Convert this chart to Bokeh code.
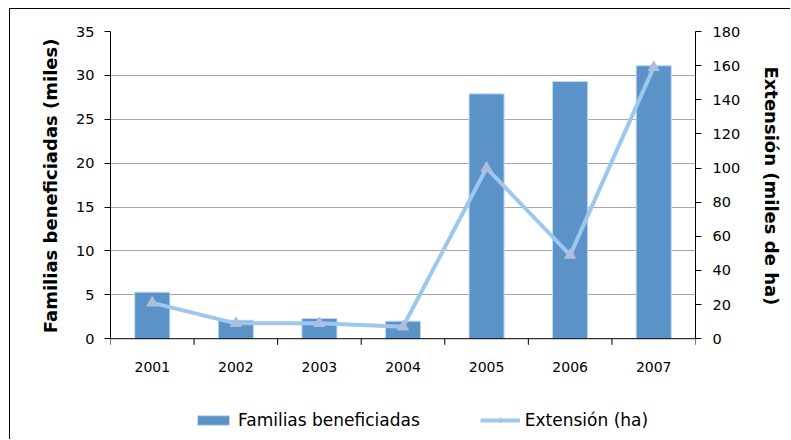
from bokeh.plotting import figure
from bokeh.models import (ColumnDataSource, Range1d, LinearAxis, FixedTicker,
                          Legend, LegendItem, Span)
from bokeh.core.properties import value
from bokeh.embed import file_html
from bokeh.resources import INLINE

years = ["2001", "2002", "2003", "2004", "2005", "2006", "2007"]
familias = [5.3, 2.1, 2.3, 2.0, 27.9, 29.3, 31.1]       # miles
extension = [21, 9, 9, 7, 100, 49, 159]                  # miles de ha
left_ticks = [0, 5, 10, 15, 20, 25, 30, 35]
right_ticks = [0, 20, 40, 60, 80, 100, 120, 140, 160, 180]
left_title = "Familias beneficiadas (miles)"
right_title = "Extensión (miles de ha)"

FONT = "DejaVu Sans"
n = len(years)
xpos = [i + 0.5 for i in range(n)]
bounds_x = list(range(n + 1))
src = ColumnDataSource(dict(x=xpos, fam=familias, ext=extension, year=years,
                            zero=[0] * n))

YMAX = left_ticks[-1]
RMAX = right_ticks[-1]
# frame extends below zero to host the legend area
LOW = -11.6
p = figure(width=781, height=431, output_backend="svg", toolbar_location=None,
           x_range=Range1d(0, n), y_range=Range1d(LOW, YMAX),
           min_border_left=100, min_border_right=96, min_border_top=22,
           min_border_bottom=0, x_axis_location=None, y_axis_location=None)
p.outline_line_color = None
p.border_fill_color = "white"
p.background_fill_color = "white"
p.extra_y_ranges = {"ext": Range1d(LOW * RMAX / YMAX, RMAX)}
p.styles = {"margin-left": "9px", "margin-top": "8px",
            "border-left": "1px solid black", "border-top": "1px solid black"}

# grid
p.xgrid.visible = False
p.ygrid.ticker = FixedTicker(ticks=left_ticks[1:])
p.ygrid.grid_line_color = "#a6a6a6"
p.ygrid.grid_line_width = 1

# bars
bars = p.vbar(x="x", top="fam", width=0.42, source=src,
              fill_color="#5b93c9", line_color="#c4daf0", line_width=1)

# category axis (at zero)
p.add_layout(Span(location=0, dimension="width", line_color="black", line_width=1))
p.segment(x0=bounds_x, y0=[0] * (n + 1), x1=bounds_x, y1=[-0.7] * (n + 1),
          line_color="black", line_width=1)
p.text(x="x", y="zero", text="year", source=src, text_align="center",
       text_baseline="middle", y_offset=28, text_font=value(FONT),
       text_font_size="14px", text_color="black")

# line
ln = p.line(x="x", y="ext", source=src, y_range_name="ext",
            line_color="#9dc8ee", line_width=4)
mk = p.scatter(x="x", y="ext", source=src, y_range_name="ext", marker="triangle",
               size=11, fill_color="#b0bedd", line_color="#b0bedd")

def style_y(ax, standoff, label_standoff):
    ax.major_tick_out = 6
    ax.major_tick_in = 0
    ax.minor_tick_line_color = None
    ax.axis_line_color = "black"
    ax.major_label_text_font = FONT
    ax.major_label_text_font_size = "14.5px"
    ax.major_label_text_color = "black"
    ax.major_label_standoff = standoff
    ax.axis_label_text_font = FONT
    ax.axis_label_text_font_style = "bold"
    ax.axis_label_text_font_size = "18px"
    ax.axis_label_text_color = "black"
    ax.axis_label_standoff = label_standoff

# non-breaking padding keeps the titles centred on the 0..max part of the axes
PAD = "\u00a0" * 16

yl = LinearAxis(ticker=FixedTicker(ticks=left_ticks), bounds=(0, YMAX),
                axis_label=PAD + left_title)
style_y(yl, 10, 12)
p.add_layout(yl, "left")

yr = LinearAxis(y_range_name="ext", ticker=FixedTicker(ticks=right_ticks), bounds=(0, RMAX),
                axis_label=right_title + PAD)
style_y(yr, 11, 18)
p.add_layout(yr, "right")

legend = Legend(items=[LegendItem(label="Familias beneficiadas", renderers=[bars]),
                       LegendItem(label="Extensión (ha)", renderers=[ln, mk])],
                orientation="horizontal", location=(83, 10), spacing=60,
                label_text_font=FONT, label_text_font_size="17px",
                label_text_color="black", border_line_color=None,
                background_fill_alpha=0, glyph_width=40, glyph_height=12,
                label_standoff=5, margin=0, padding=6)
p.add_layout(legend)

open("out.html", "w").write(file_html(p, INLINE))
